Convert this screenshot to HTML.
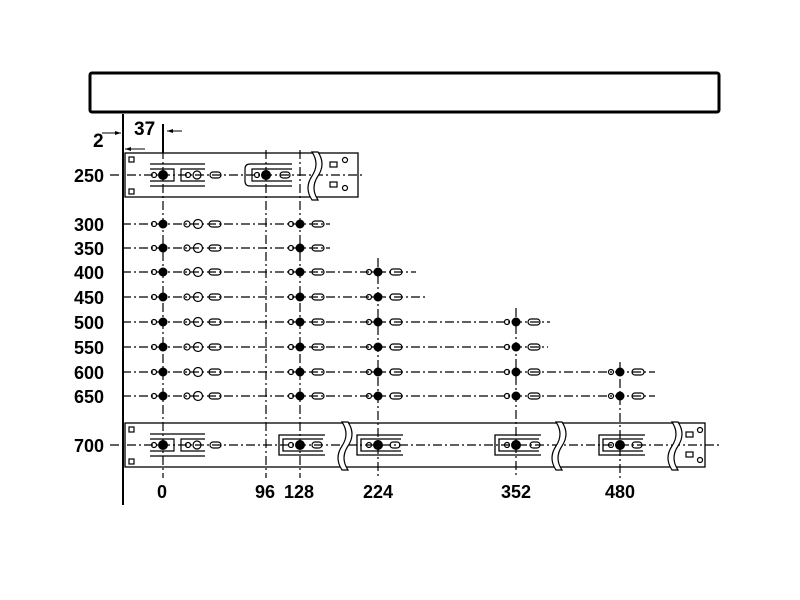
<!DOCTYPE html>
<html><head><style>body{margin:0;background:#fff}svg{display:block}text{font-family:"Liberation Sans",sans-serif;font-weight:bold}</style></head><body>
<svg width="800" height="600" viewBox="0 0 800 600" xmlns="http://www.w3.org/2000/svg">
<defs>
<g id="g0" fill="none" stroke="#000" stroke-width="1.2"><circle cx="-9" cy="0" r="2.5"/><circle cx="24" cy="0" r="3"/><circle cx="35" cy="0" r="4.5"/><rect x="46" y="-3" width="12" height="6" rx="3"/></g>
<g id="g1" fill="none" stroke="#000" stroke-width="1.2"><circle cx="-9" cy="0" r="2.5"/><rect x="12" y="-3" width="12" height="6" rx="3"/></g>
<g id="br" fill="#fff" stroke="#000" stroke-width="1.2"><path d="M0,-24 q8,12 0,24 q-8,12 0,24 h6 q-8,-12 0,-24 q8,-12 0,-24z"/></g>
<g id="clip" fill="none" stroke="#000" stroke-width="1.3"><path d="M28,-6 H-12 V6 H28"/><path d="M30,-10 H-16 V10 H30"/></g>
</defs>
<rect x="90" y="73" width="629" height="39" rx="2" fill="none" stroke="#000" stroke-width="3"/>
<line x1="123" y1="114" x2="123" y2="505" stroke="#000" stroke-width="2"/>
<text x="134" y="135" font-size="19">37</text><text x="93" y="147" font-size="19">2</text>
<line x1="163" y1="124" x2="163" y2="153" stroke="#000" stroke-width="2"/>
<path d="M102,133 H121 M125,149 H145 M167,131 H182" stroke="#000"/>
<path d="M121,133 l-6,-2 v4z M125,149 l6,-2 v4z M167,131 l6,-2 v4z" fill="#000"/>
<g stroke="#000" stroke-width="1.2" stroke-dasharray="9,3,2,3">
<line x1="163" y1="150" x2="163" y2="478"/><line x1="266" y1="150" x2="266" y2="478"/><line x1="300" y1="150" x2="300" y2="478"/>
<line x1="378" y1="258" x2="378" y2="478"/><line x1="516" y1="308" x2="516" y2="478"/><line x1="620" y1="362" x2="620" y2="478"/>
<line x1="110" y1="175" x2="362" y2="175"/>
<line x1="122" y1="224" x2="330" y2="224"/><line x1="122" y1="248" x2="330" y2="248"/>
<line x1="122" y1="272" x2="416" y2="272"/><line x1="122" y1="297" x2="427" y2="297"/>
<line x1="122" y1="322" x2="550" y2="322"/><line x1="122" y1="347" x2="548" y2="347"/>
<line x1="122" y1="372" x2="655" y2="372"/><line x1="122" y1="396" x2="655" y2="396"/>
<line x1="110" y1="445" x2="720" y2="445"/>
</g>
<g font-size="18">
<text x="74" y="182">250</text><text x="74" y="231">300</text><text x="74" y="255">350</text><text x="74" y="279">400</text><text x="74" y="304">450</text><text x="74" y="329">500</text><text x="74" y="354">550</text><text x="74" y="379">600</text><text x="74" y="403">650</text><text x="74" y="452">700</text>
<text x="157" y="498">0</text><text x="255" y="498">96</text><text x="284" y="498">128</text><text x="363" y="498">224</text><text x="501" y="498">352</text><text x="605" y="498">480</text>
</g>
<g>
<use href="#g0" x="163" y="224"/><use href="#g0" x="163" y="248"/><use href="#g0" x="163" y="272"/><use href="#g0" x="163" y="297"/><use href="#g0" x="163" y="322"/><use href="#g0" x="163" y="347"/><use href="#g0" x="163" y="372"/><use href="#g0" x="163" y="396"/>
<use href="#g1" x="300" y="224"/><use href="#g1" x="300" y="248"/><use href="#g1" x="300" y="272"/><use href="#g1" x="300" y="297"/><use href="#g1" x="300" y="322"/><use href="#g1" x="300" y="347"/><use href="#g1" x="300" y="372"/><use href="#g1" x="300" y="396"/>
<use href="#g1" x="378" y="272"/><use href="#g1" x="378" y="297"/><use href="#g1" x="378" y="322"/><use href="#g1" x="378" y="347"/><use href="#g1" x="378" y="372"/><use href="#g1" x="378" y="396"/>
<use href="#g1" x="516" y="322"/><use href="#g1" x="516" y="347"/><use href="#g1" x="516" y="372"/><use href="#g1" x="516" y="396"/>
<use href="#g1" x="620" y="372"/><use href="#g1" x="620" y="396"/>
</g>
<g fill="#000">
<circle cx="163" cy="224" r="4.5"/><circle cx="163" cy="248" r="4.5"/><circle cx="163" cy="272" r="4.5"/><circle cx="163" cy="297" r="4.5"/><circle cx="163" cy="322" r="4.5"/><circle cx="163" cy="347" r="4.5"/><circle cx="163" cy="372" r="4.5"/><circle cx="163" cy="396" r="4.5"/>
<circle cx="300" cy="224" r="4.5"/><circle cx="300" cy="248" r="4.5"/><circle cx="300" cy="272" r="4.5"/><circle cx="300" cy="297" r="4.5"/><circle cx="300" cy="322" r="4.5"/><circle cx="300" cy="347" r="4.5"/><circle cx="300" cy="372" r="4.5"/><circle cx="300" cy="396" r="4.5"/>
<circle cx="378" cy="272" r="4.5"/><circle cx="378" cy="297" r="4.5"/><circle cx="378" cy="322" r="4.5"/><circle cx="378" cy="347" r="4.5"/><circle cx="378" cy="372" r="4.5"/><circle cx="378" cy="396" r="4.5"/>
<circle cx="516" cy="322" r="4.5"/><circle cx="516" cy="347" r="4.5"/><circle cx="516" cy="372" r="4.5"/><circle cx="516" cy="396" r="4.5"/>
<circle cx="620" cy="372" r="4.5"/><circle cx="620" cy="396" r="4.5"/>
</g>
<rect x="125" y="153" width="233" height="44" fill="none" stroke="#000" stroke-width="1.3"/>
<g fill="none" stroke="#000" stroke-width="1.2"><rect x="129" y="157" width="5" height="5"/><rect x="129" y="189" width="5" height="5"/>
<path d="M150,164 H205 M150,186 H205 M150,169 H174 V181 H150 M205,169 H181 V181 H205"/>
<circle cx="154" cy="175" r="2.5"/><circle cx="188" cy="175" r="2.5"/><circle cx="197" cy="175" r="4"/><rect x="210" y="172" width="11" height="6" rx="3"/>
<path d="M292,164 H250 Q245,164 245,169 V181 Q245,186 250,186 H292 M292,169 H252 V181 H292"/>
<circle cx="257" cy="175" r="2.5"/><rect x="280" y="172" width="10" height="6" rx="3"/>
<rect x="330" y="162" width="7" height="5"/><rect x="330" y="182" width="7" height="5"/><circle cx="345" cy="160" r="2.5"/><circle cx="345" cy="188" r="2.5"/></g>
<use href="#br" x="312" y="176"/>
<g fill="#000"><circle cx="163" cy="175" r="5"/><circle cx="266" cy="175" r="5"/></g>
<rect x="125" y="423" width="580" height="44" fill="none" stroke="#000" stroke-width="1.3"/>
<g fill="none" stroke="#000" stroke-width="1.2"><rect x="129" y="427" width="5" height="5"/><rect x="129" y="459" width="5" height="5"/>
<path d="M150,434 H205 M150,456 H205 M150,439 H174 V451 H150 M205,439 H181 V451 H205"/>
<circle cx="154" cy="445" r="2.5"/><circle cx="188" cy="445" r="2.5"/><circle cx="197" cy="445" r="4"/><rect x="210" y="442" width="11" height="6" rx="3"/>
<rect x="686" y="432" width="7" height="5"/><rect x="686" y="452" width="7" height="5"/><circle cx="700" cy="430" r="2.5"/><circle cx="700" cy="460" r="2.5"/></g>
<use href="#clip" x="295" y="445"/><use href="#clip" x="373" y="445"/><use href="#clip" x="511" y="445"/><use href="#clip" x="615" y="445"/>
<g fill="none" stroke="#000" stroke-width="1.2"><circle cx="291" cy="445" r="2.5"/><rect x="312" y="442" width="10" height="6" rx="3"/><circle cx="369" cy="445" r="2.5"/><rect x="390" y="442" width="10" height="6" rx="3"/><circle cx="507" cy="445" r="2.5"/><rect x="530" y="442" width="10" height="6" rx="3"/><circle cx="611" cy="445" r="2.5"/><rect x="632" y="442" width="10" height="6" rx="3"/></g>
<use href="#br" x="342" y="446"/><use href="#br" x="556" y="446"/><use href="#br" x="672" y="446"/>
<g fill="#000"><circle cx="163" cy="445" r="5"/><circle cx="300" cy="445" r="5"/><circle cx="378" cy="445" r="5"/><circle cx="516" cy="445" r="5"/><circle cx="620" cy="445" r="5"/></g>
</svg>
</body></html>
